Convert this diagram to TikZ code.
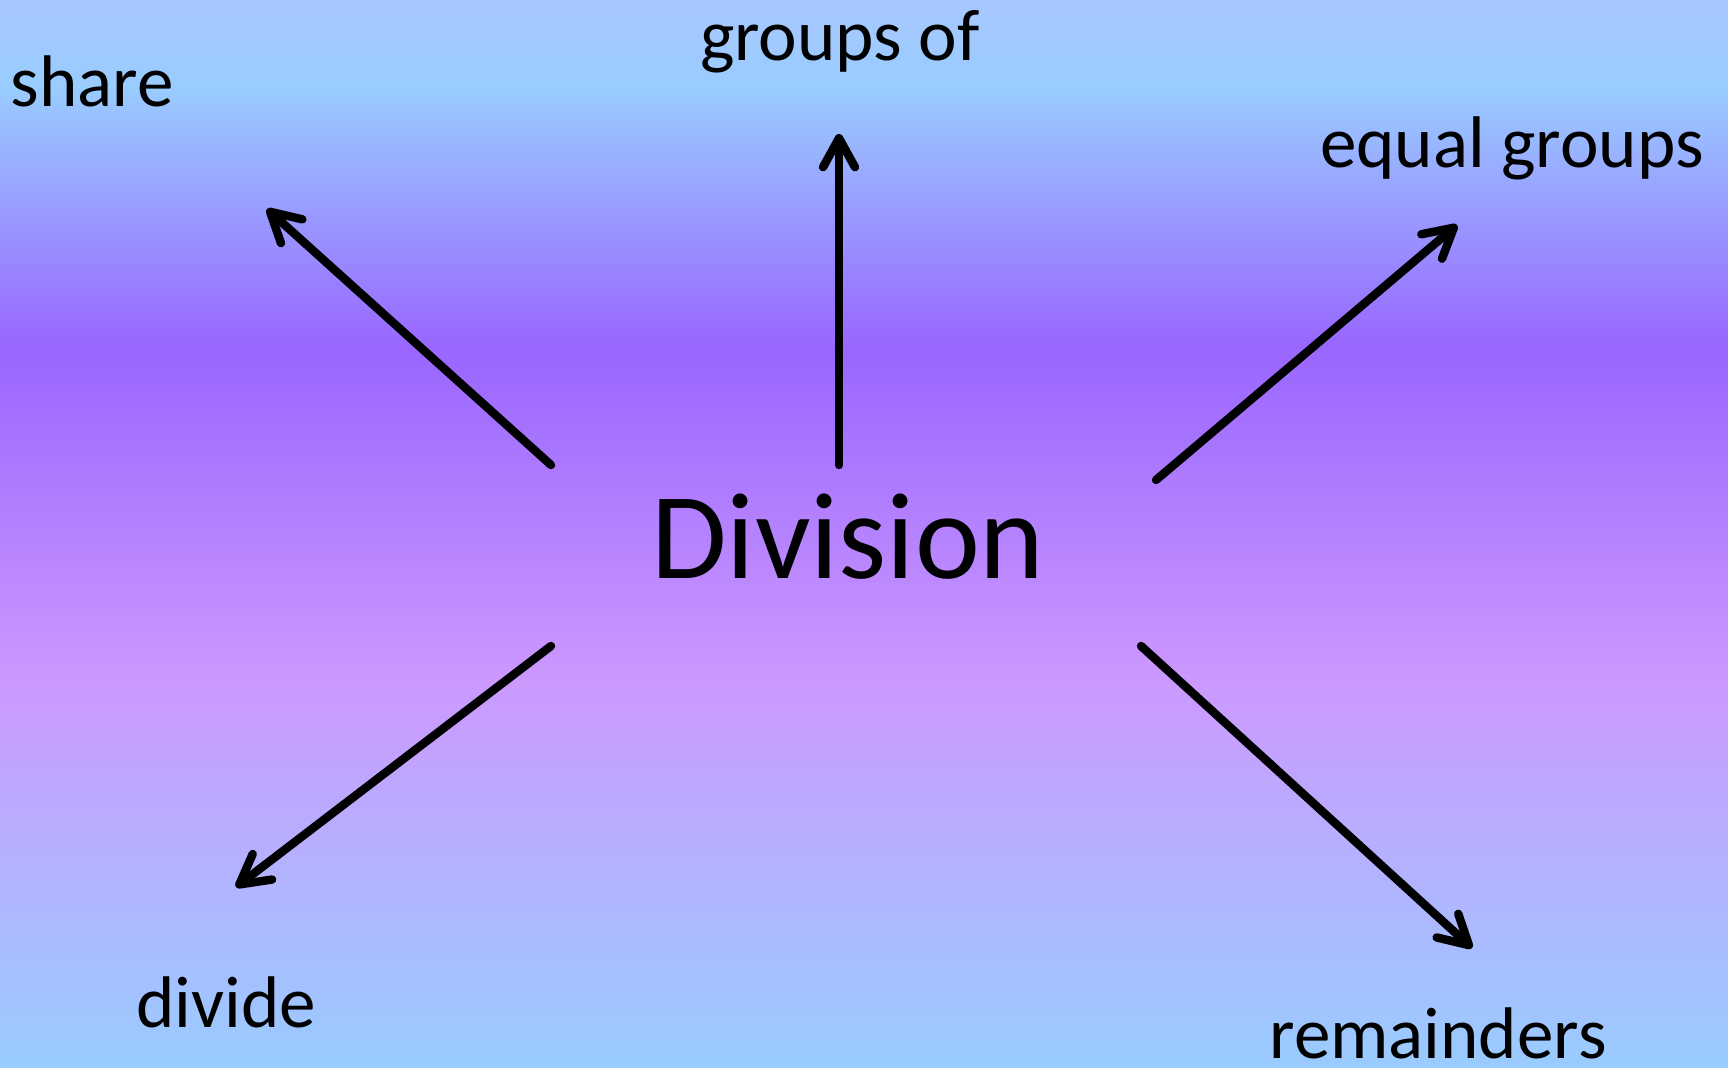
\documentclass[tikz,border=0pt]{standalone}
\usepackage{fontspec}
\setmainfont{Carlito}
\usepackage{tikz}
\usetikzlibrary{arrows.meta}
\definecolor{skyblue}{HTML}{99CCFF}
\definecolor{paleblue}{HTML}{A8C8FF}
\definecolor{deeppurple}{HTML}{9966FF}
\definecolor{lilac}{HTML}{CC99FF}
\pgfdeclareverticalshading{divback}{100bp}{
  color(0bp)=(skyblue); color(25bp)=(skyblue); color(43bp)=(lilac);
  color(58.7bp)=(deeppurple); color(70.9bp)=(skyblue);
  color(75bp)=(paleblue); color(100bp)=(paleblue)}

\begin{document}
\begin{tikzpicture}[x=0.1mm, y=0.1mm,
  word/.style={font=\fontsize{20.8}{25}\selectfont, inner sep=0pt},
  title/.style={font=\fontsize{35}{42}\selectfont, inner sep=0pt},
  arrow/.style={-{Straight Barb[length=2.9mm, width=3.2mm, round]}, line width=2.4pt, line cap=round}
]
  % background
  \shade[shading=divback] (0,0) rectangle (1728,1067);
  \useasboundingbox (0,0) rectangle (1728,1067);

  \node[title, anchor=base] (division) at (848,488) {Division};

  \node[word, anchor=base west] (share) at (10,960) {share};
  \node[word, anchor=base] (groupsof) at (840,1006) {groups of};
  \node[word, anchor=base] (equal) at (1512,899) {equal groups};
  \node[word, anchor=base] (divide) at (226,40) {divide};
  \node[word, anchor=base] (remain) at (1438,9) {remainders};

  % arrow ends
  \coordinate (s1) at (551,602);  \coordinate (e1) at (267,858);
  \coordinate (s2) at (839,602);  \coordinate (e2) at (839,933);
  \coordinate (s3) at (1156,587); \coordinate (e3) at (1457,842);
  \coordinate (s4) at (551,421);  \coordinate (e4) at (236,180);
  \coordinate (s5) at (1141,421); \coordinate (e5) at (1472,119);

  \foreach \i in {1,...,5}
    \draw[arrow] (s\i) -- (e\i);
\end{tikzpicture}
\end{document}
